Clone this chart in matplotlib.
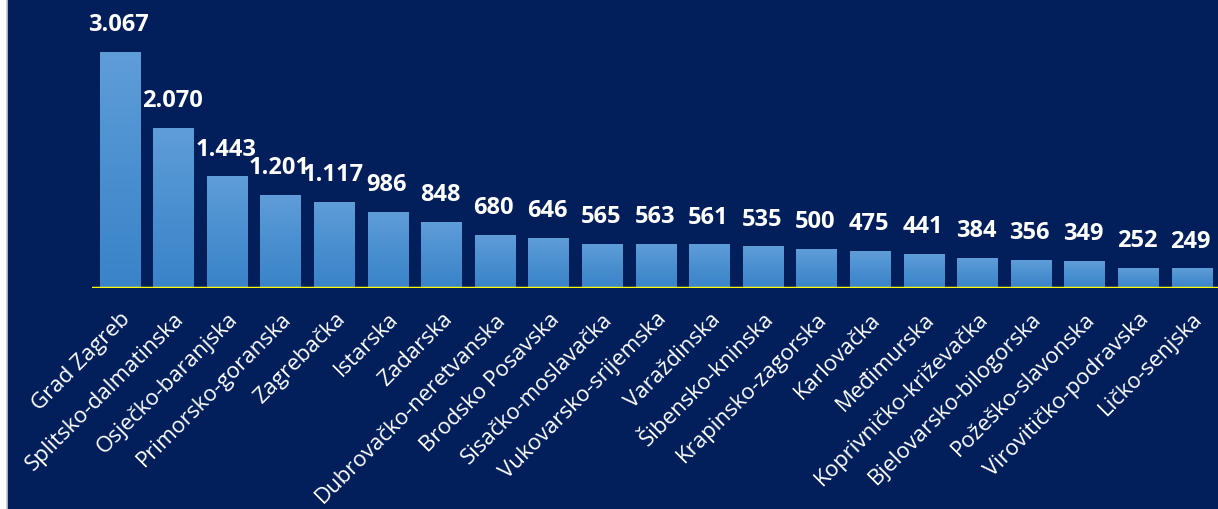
import matplotlib.pyplot as plt
import numpy as np
from matplotlib.colors import LinearSegmentedColormap
from matplotlib.patches import Rectangle
from matplotlib.lines import Line2D

# data
counties = ["Grad Zagreb", "Splitsko-dalmatinska", "Osječko-baranjska", "Primorsko-goranska",
            "Zagrebačka", "Istarska", "Zadarska", "Dubrovačko-neretvanska", "Brodsko Posavska",
            "Sisačko-moslavačka", "Vukovarsko-srijemska", "Varaždinska", "Šibensko-kninska",
            "Krapinsko-zagorska", "Karlovačka", "Međimurska", "Koprivničko-križevačka",
            "Bjelovarsko-bilogorska", "Požeško-slavonska", "Virovitičko-podravska", "Ličko-senjska"]
values = [3067, 2070, 1443, 1201, 1117, 986, 848, 680, 646, 565, 563, 561, 535, 500,
          475, 441, 384, 356, 349, 252, 249]
value_labels = ["3.067", "2.070", "1.443", "1.201", "1.117", "986", "848", "680", "646", "565",
                "563", "561", "535", "500", "475", "441", "384", "356", "349", "252", "249"]

bg = "#021f5c"
fig = plt.figure(figsize=(12.18, 5.09), dpi=100, facecolor=bg)

# white strip on the left edge
fig.patches.append(Rectangle((0, 0), 7 / 1218, 1, transform=fig.transFigure,
                             facecolor="white", edgecolor="none"))
fig.lines.append(Line2D([7 / 1218, 7 / 1218], [0, 1], transform=fig.transFigure,
                        color="#c8c8c8", lw=1.2))

ax = fig.add_axes([92 / 1218, 1 - 288 / 509, 1 - 92 / 1218, 288 / 509])
ax.set_facecolor(bg)

n = len(values)
x = np.arange(n)
w = 0.76
spacing = 53.6  # px per category
x0 = 120  # px of first bar centre
ax.set_xlim((92 - x0) / spacing, (1218 - x0) / spacing)
ax.set_ylim(0, 3067 * 288 / 236)

cmap = LinearSegmentedColormap.from_list("bar", ["#3a83c9", "#4a90d0", "#5f9dd8"])
grad = np.linspace(0, 1, 256).reshape(-1, 1)
for xi, v, lab in zip(x, values, value_labels):
    ax.imshow(grad, extent=[xi - w / 2, xi + w / 2, 0, v], origin="lower",
              aspect="auto", cmap=cmap, zorder=2)
    ax.annotate(lab, (xi, v), xytext=(-1, 11), textcoords="offset points",
                ha="center", va="bottom", color="white", fontsize=17,
                fontweight="bold", family="Open Sans")

ax.axhline(0, color="#ffff00", lw=2.5, zorder=3)

ax.set_xticks(x)
ax.set_xticklabels(counties, rotation=45, ha="right", rotation_mode="anchor",
                   color="white", fontsize=16, family="Open Sans")
ax.tick_params(axis="x", length=0, pad=15)
ax.set_yticks([])
for s in ax.spines.values():
    s.set_visible(False)

plt.savefig("out.png", dpi=100, facecolor=bg)
